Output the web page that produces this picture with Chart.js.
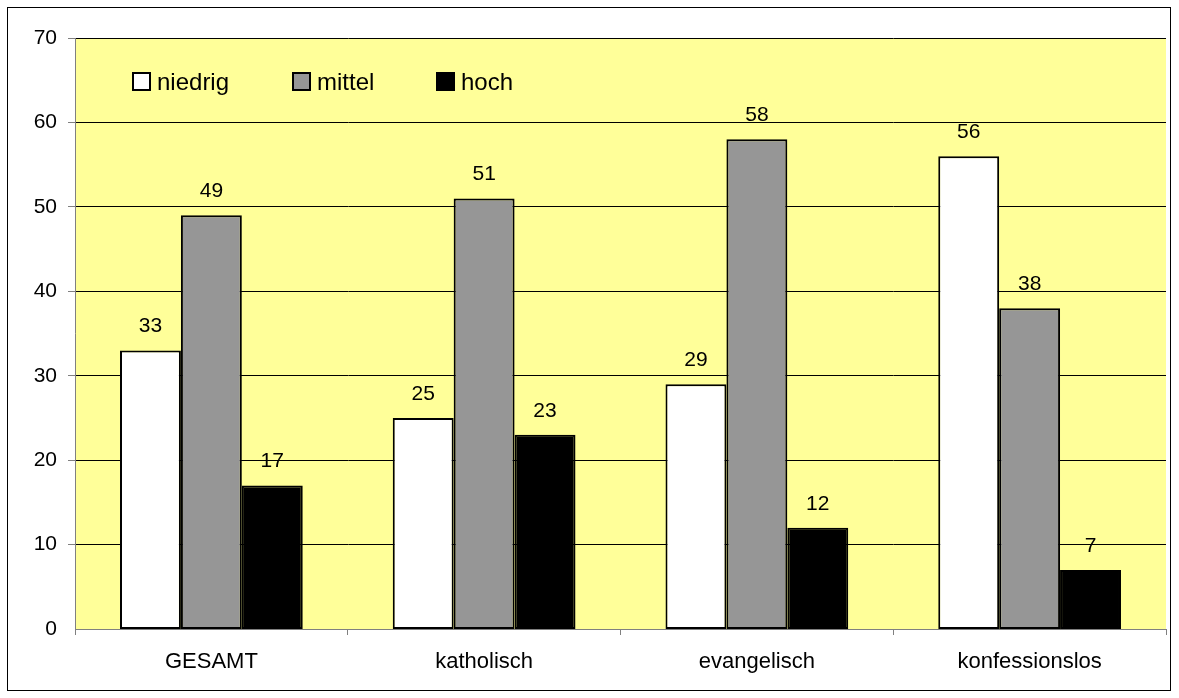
<!DOCTYPE html>
<html lang="de">
<head>
<meta charset="UTF-8">
<title>Religiosität nach Konfession</title>
<style>
  html, body { margin: 0; padding: 0; background: #fff; }
  #wrap { width: 1179px; height: 698px; }
</style>
</head>
<body>
<div id="wrap"><canvas id="myChart" width="1179" height="698"></canvas></div>

<script src="https://cdn.jsdelivr.net/npm/chart.js@4/dist/chart.umd.min.js"></script>
<script>
// categories and values (percent)
var categories = ['GESAMT', 'katholisch', 'evangelisch', 'konfessionslos'];
var niedrig = [33, 25, 29, 56];
var mittel = [49, 51, 58, 38];
var hoch = [17, 23, 12, 7];
var seriesNames = ['niedrig', 'mittel', 'hoch'];
var yTicks = [0, 10, 20, 30, 40, 50, 60, 70];

var FONT = '"Liberation Sans", Arial, sans-serif';

// frame round the whole picture + yellow plot background
var framePlugin = {
    id: 'frame',
    beforeDraw: function(chart) {
        var ctx = chart.ctx, a = chart.chartArea;
        ctx.save();
        ctx.fillStyle = '#ffffff';
        ctx.fillRect(0, 0, chart.width, chart.height);
        ctx.strokeStyle = '#000';
        ctx.lineWidth = 1;
        ctx.strokeRect(7.5, 7.5, 1163, 683);
        ctx.fillStyle = '#ffff99';
        ctx.fillRect(a.left, a.top, a.right - a.left, a.bottom - a.top);
        ctx.restore();
    }
};

// value above each bar
var valuePlugin = {
    id: 'values',
    afterDatasetsDraw: function(chart) {
        var ctx = chart.ctx;
        ctx.save();
        ctx.font = '21px ' + FONT;
        ctx.fillStyle = '#000';
        ctx.textAlign = 'center';
        ctx.textBaseline = 'alphabetic';
        chart.data.datasets.forEach(function(ds, i) {
            chart.getDatasetMeta(i).data.forEach(function(bar, j) {
                ctx.fillText(ds.data[j], bar.x, bar.y - 18);
            });
        });
        ctx.restore();
    }
};

// legend inside the plot, top left
var legendPlugin = {
    id: 'innerLegend',
    afterDraw: function(chart) {
        var ctx = chart.ctx;
        var xs = [133, 293, 437];
        ctx.save();
        ctx.font = '24px ' + FONT;
        ctx.textBaseline = 'alphabetic';
        chart.data.datasets.forEach(function(ds, i) {
            ctx.fillStyle = ds.backgroundColor;
            ctx.fillRect(xs[i], 73, 17, 17);
            ctx.strokeStyle = '#000';
            ctx.lineWidth = 2;
            ctx.strokeRect(xs[i], 73, 17, 17);
            ctx.fillStyle = '#000';
            ctx.fillText(ds.label, xs[i] + 24, 90);
        });
        ctx.restore();
    }
};

function makeSet(label, data, color) {
    return {
        label: label,
        data: data,
        backgroundColor: color,
        borderColor: '#000',
        borderWidth: 2,
        borderSkipped: false,
        barPercentage: 1.0,
        categoryPercentage: 0.67
    };
}

var ctx = document.getElementById('myChart').getContext('2d');
var myChart = new Chart(ctx, {
    type: 'bar',
    data: {
        labels: categories,
        datasets: [
            makeSet(seriesNames[0], niedrig, '#ffffff'),
            makeSet(seriesNames[1], mittel, '#969696'),
            makeSet(seriesNames[2], hoch, '#000000')
        ]
    },
    options: {
        responsive: false,
        animation: false,
        layout: { padding: { top: 38, right: 13, bottom: 0, left: 0 } },
        plugins: {
            legend: { display: false },
            tooltip: { enabled: false }
        },
        scales: {
            x: {
                afterFit: function(s) { s.height = 69; },
                border: { color: '#808080', width: 1 },
                grid: {
                    offset: true,
                    drawOnChartArea: false,
                    color: '#808080',
                    tickLength: 6
                },
                ticks: {
                    color: '#000',
                    font: { family: FONT, size: 22 },
                    padding: 14
                }
            },
            y: {
                min: 0,
                max: 70,
                afterFit: function(s) { s.width = 75; },
                afterBuildTicks: function(s) {
                    s.ticks = yTicks.map(function(v) { return { value: v }; });
                },
                border: { color: '#808080', width: 1 },
                grid: {
                    color: '#000',
                    lineWidth: function(c) { return c.tick && c.tick.value === 0 ? 0 : 1; },
                    tickColor: '#808080',
                    tickLength: 7
                },
                ticks: {
                    color: '#000',
                    font: { family: FONT, size: 21 },
                    padding: 11
                }
            }
        }
    },
    plugins: [framePlugin, valuePlugin, legendPlugin]
});
</script>
</body>
</html>
